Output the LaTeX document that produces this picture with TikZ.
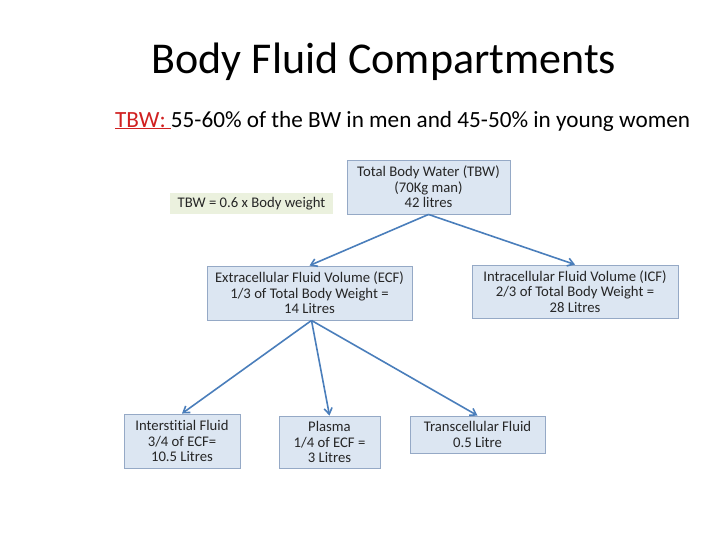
\documentclass[tikz,border=0pt]{standalone}
\usepackage{fontspec}
\setmainfont[Ligatures={NoCommon}]{Carlito}
\usetikzlibrary{arrows.meta}
\definecolor{boxfill}{HTML}{DCE6F2}
\definecolor{boxline}{HTML}{95A9C6}
\definecolor{greenfill}{HTML}{EBF1DE}
\definecolor{arrowc}{HTML}{4A7EBB}
\definecolor{redt}{HTML}{D02020}
\definecolor{boxtext}{HTML}{262626}
\tikzset{
  fluidbox/.style={draw=boxline, line width=0.9pt, fill=boxfill, align=center, inner sep=1pt,
    text=boxtext, font=\fontsize{14.7}{15.6}\selectfont},
  formulabox/.style={fill=greenfill, align=center, inner sep=1pt, text=boxtext,
    font=\fontsize{14.7}{15.6}\selectfont},
  flow/.style={draw=arrowc, line width=1.6pt, -{Straight Barb[length=6pt,width=8pt]}}
}
\begin{document}
\begin{tikzpicture}[x=1pt,y=-1pt]
\useasboundingbox (0,0) rectangle (720,540);
\node[font=\fontsize{44}{48}\selectfont] (title) at (384,62) {Body Fluid Compartments};
\node[font=\fontsize{23.2}{26}\selectfont, anchor=west, inner sep=0pt] (sub) at (115,121)
  {\textcolor{redt}{\underline{TBW:\ }}55-60\% of the BW in men and 45-50\% in young women};
\node[fluidbox, minimum width=163pt, minimum height=54pt] (tbw) at (428.5,187)
  {Total Body Water (TBW)\\(70Kg man)\\42 litres};
\node[formulabox, minimum width=163pt, minimum height=21pt] (formula) at (251.5,203.5)
  {TBW = 0.6 x Body weight};
\node[fluidbox, minimum width=205pt, minimum height=54pt] (ecf) at (309.5,293)
  {Extracellular Fluid Volume (ECF)\\1/3 of Total Body Weight =\\14 Litres};
\node[fluidbox, minimum width=206pt, minimum height=53pt] (icf) at (575,291.5)
  {Intracellular Fluid Volume (ICF)\\2/3 of Total Body Weight =\\28 Litres};
\node[fluidbox, minimum width=116pt, minimum height=54pt] (isf) at (182,441)
  {Interstitial Fluid\\3/4 of ECF=\\10.5 Litres};
\node[fluidbox, minimum width=101pt, minimum height=52pt] (plasma) at (329.5,442)
  {Plasma\\1/4 of ECF =\\3 Litres};
\node[fluidbox, minimum width=135pt, minimum height=37pt] (trans) at (477.5,434.5)
  {Transcellular Fluid\\0.5 Litre};
\draw[flow] (tbw.south) -- (ecf.north);
\draw[flow] (tbw.south) -- (icf.north);
\coordinate (ecfbot) at ([xshift=2pt]ecf.south);
\draw[flow] (ecfbot) -- (isf.north);
\draw[flow] (ecfbot) -- (plasma.north);
\draw[flow] (ecfbot) -- (trans.north);
\end{tikzpicture}
\end{document}
